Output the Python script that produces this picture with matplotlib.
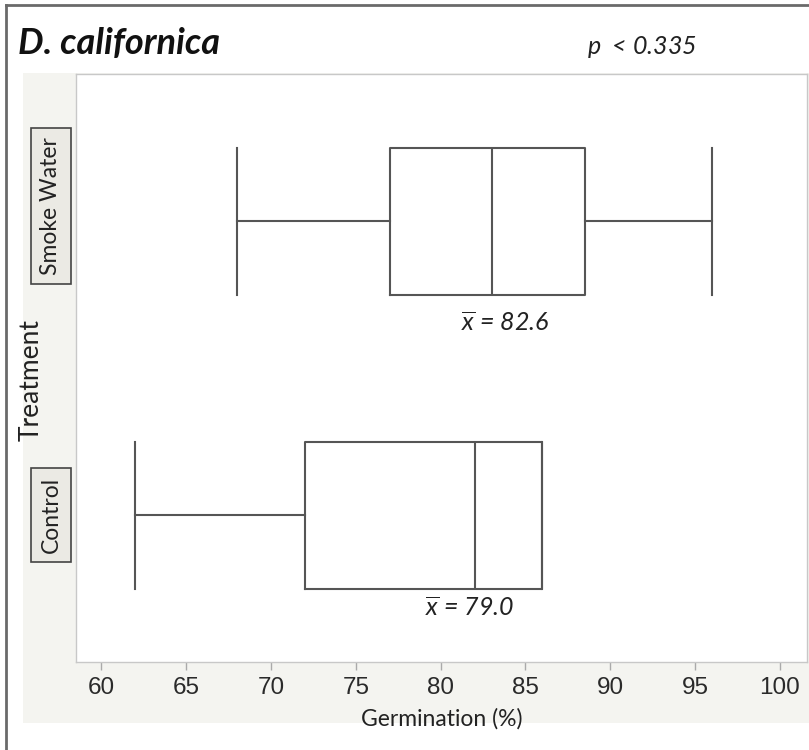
import matplotlib
matplotlib.use('Agg')
import matplotlib.pyplot as plt
from matplotlib.patches import Rectangle
from matplotlib.lines import Line2D
from matplotlib.font_manager import FontProperties
from matplotlib import transforms

plt.rcParams['font.family'] = ['Lato', 'DejaVu Sans']
plt.rcParams['mathtext.fontset'] = 'custom'
plt.rcParams['mathtext.it'] = 'Lato:italic'
plt.rcParams['mathtext.rm'] = 'Lato'

# 数据（从图上读出来的）
groups = ['Control', 'Smoke Water']
whislo = [62, 68]
q1 = [72, 77]
med = [82, 83]
q3 = [86, 88.5]
whishi = [86, 96]
means = [79.0, 82.6]
xticks = [60, 65, 70, 75, 80, 85, 90, 95, 100]

stats = []
for i in range(len(groups)):
    stats.append({'label': groups[i], 'whislo': whislo[i], 'q1': q1[i],
                  'med': med[i], 'q3': q3[i], 'whishi': whishi[i], 'fliers': []})

fig = plt.figure(figsize=(8.09, 7.5), dpi=100)
fig.patch.set_facecolor('white')

# 灰色底板
fig.add_artist(Rectangle((23 / 809, 27 / 750), 1 - 23 / 809, 650 / 750,
                         transform=fig.transFigure, facecolor='#f4f4f0',
                         edgecolor='none', zorder=-10))
# 外框
fig.add_artist(Line2D([6 / 809, 6 / 809], [0, 1 - 5 / 750], transform=fig.transFigure,
                      color='#6a6a6a', lw=2))
fig.add_artist(Line2D([6 / 809, 1], [1 - 5 / 750, 1 - 5 / 750], transform=fig.transFigure,
                      color='#6a6a6a', lw=2))

ax = fig.add_axes([76 / 809, 88 / 750, (807 - 76) / 809, (662 - 74) / 750])
ax.set_facecolor('white')

line_kw = dict(color='#555555', lw=1.5)
ax.bxp(stats, positions=[0, 1], vert=False, widths=0.5, capwidths=0.5,
       showfliers=False, boxprops=line_kw, whiskerprops=line_kw,
       capprops=line_kw, medianprops=line_kw)

ax.set_xlim(58.5, 101.6)
ax.set_ylim(-0.5, 1.5)
ax.set_xticks(xticks)
tick_fp = FontProperties(family='Liberation Sans', size=17.5)
ax.set_xticklabels([str(t) for t in xticks], fontproperties=tick_fp, color='#2a2a2a')
ax.tick_params(axis='x', length=6, color='#aaaaaa', width=1, pad=5)
ax.set_yticks([])
for s in ax.spines.values():
    s.set_color('#c8c8c8')
    s.set_linewidth(1)

ax.set_xlabel('Germination (%)', fontsize=16.5, color='#222222', labelpad=6)

# 类别标签
trans = transforms.blended_transform_factory(fig.transFigure, ax.transData)
label_y = [0, 1.05]
for g, y in zip(groups, label_y):
    ax.text(51 / 809, y, g, transform=trans, rotation=90, ha='center', va='center',
            fontsize=16.5, color='#222222',
            bbox=dict(boxstyle='square,pad=0.4', facecolor='#ebeae4', edgecolor='#444444', lw=1.2))
fig.text(31 / 809, 1 - 380 / 750, 'Treatment', rotation=90, ha='center', va='center',
         fontsize=19, color='#222222')

# 平均值
mean_pos = [(81.7, -0.315), (83.8, 0.654)]
for m, (x, y) in zip(means, mean_pos):
    ax.text(x, y, r'$\overline{x}$ = %.1f' % m, ha='center', va='center',
            fontsize=18, style='italic', color='#222222')

fig.text(18 / 809, 1 - 43 / 750, 'D. californica', fontsize=26, fontweight='bold',
         style='italic', ha='left', va='center', color='#111111')
fig.text(587 / 809, 1 - 47 / 750, r'$p$  < 0.335', fontsize=18, style='italic',
         ha='left', va='center', color='#222222')

fig.savefig('out.png', dpi=100)
